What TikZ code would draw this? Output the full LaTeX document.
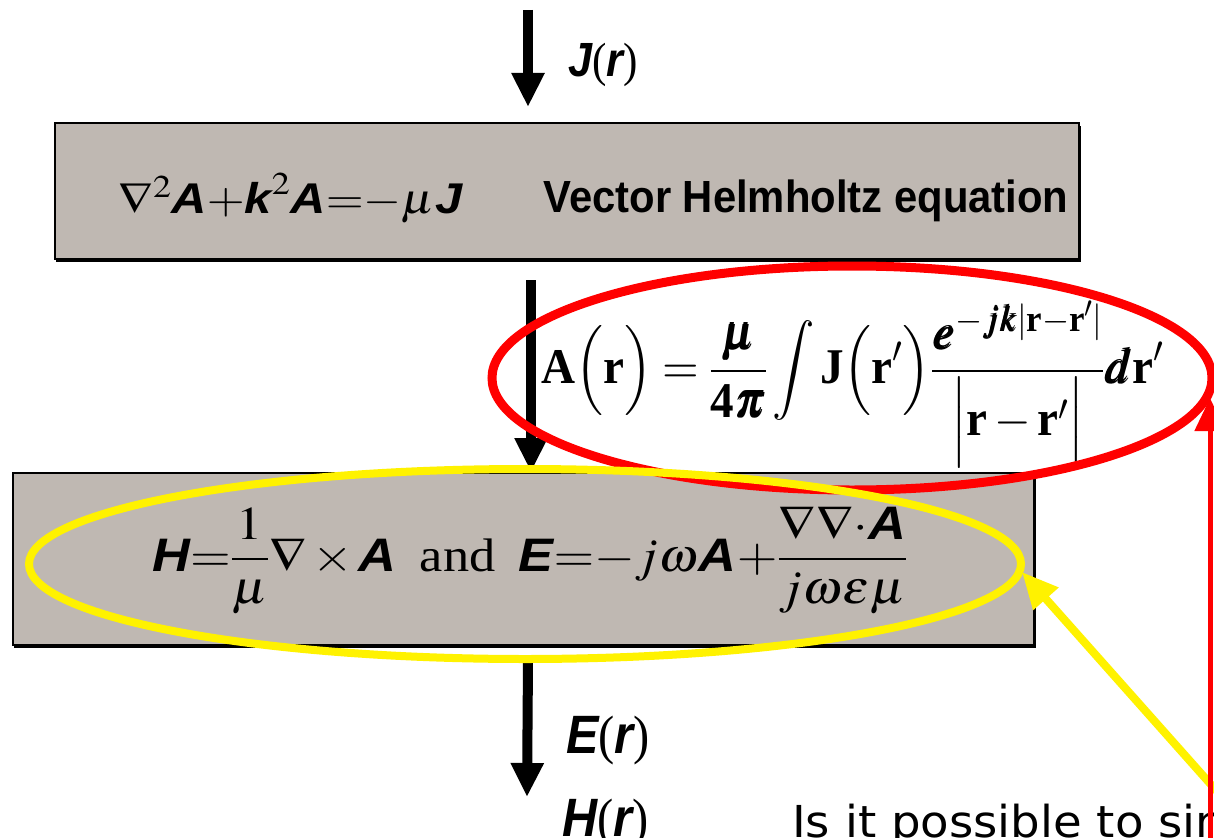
\documentclass[tikz,border=0pt]{standalone}
\usepackage{graphicx}
\usepackage{amsmath}
\usepackage{mathptmx}
\usepackage{bm}
\usepackage{fontspec}
\setmainfont{Liberation Serif}
\newfontfamily\arialf{Liberation Sans}
\newfontfamily\handf{DejaVu Sans}
\usetikzlibrary{arrows.meta,shapes.geometric}
\definecolor{boxgray}{RGB}{191,184,178}
\newcommand{\sbi}[1]{\text{\arialf\bfseries\itshape #1}}
\newcommand{\tb}[1]{\text{\bfseries #1}}
\newcommand{\fieldlbl}[1]{\scalebox{0.9}[1]{{\arialf\bfseries\itshape #1}{\rmfamily(}{\arialf\bfseries\itshape r}{\rmfamily)}}}
\tikzset{
  flowbox/.style={draw=black,line width=1.5pt,fill=boxgray},
  shadowbox/.style={fill=black},
  flowarrow/.style={line width=10pt,-{Triangle[width=31pt,length=34pt]}},
  redring/.style={draw=red,line width=9pt,ellipse,inner sep=0pt},
  yellowring/.style={draw=yellow,line width=8pt,ellipse,inner sep=0pt},
  redarrow/.style={draw=red,line width=5pt,-{Triangle[width=30pt,length=33pt]}},
  yellowarrow/.style={draw=yellow,line width=8pt,-{Triangle[width=32pt,length=36pt]}},
  lbl/.style={inner sep=0pt,anchor=base west,font=\fontsize{54}{58}\selectfont},
  eqn/.style={inner sep=0pt,anchor=base west}
}
\begin{document}
\begin{tikzpicture}[x=1pt,y=-1pt]
\useasboundingbox (0,0) rectangle (1214,837);
\clip (0,0) rectangle (1214,837);
\fill[white] (0,0) rectangle (1214,837);
% boxes
\fill[shadowbox] (56,126) rectangle (1081,262);
\path[flowbox] (55,123) rectangle (1079,259);
\fill[shadowbox] (14,476) rectangle (1036,648);
\path[flowbox] (13,473) rectangle (1034,645);
% box 1 texts
\node[eqn,font=\fontsize{43}{45}\selectfont] (eq1) at (118,213) {\resizebox{344pt}{\height}{$\nabla^{2}\sbi{A}{+}\sbi{k}^{2}\sbi{A}{=}{-}\mu\sbi{J}$}};
\node[inner sep=0pt] (vhe) at (806,201) {\resizebox*{525pt}{42pt}{\arialf\bfseries Vector Helmholtz equation}};
% box 2 text
\node[eqn,font=\fontsize{47}{49}\selectfont] (eq2) at (152,571) {\resizebox{755pt}{\height}{$\sbi{H}{=}\dfrac{1}{\mu}\nabla{\,\times\,}\sbi{A}\;\;\text{and}\;\;\sbi{E}{=}{-}j\omega\sbi{A}{+}\dfrac{\nabla\nabla{\cdot}\sbi{A}}{j\omega\varepsilon\mu}$}};
% vector potential integral
\node[eqn,font=\fontsize{50}{52}\selectfont] (eq3) at (541,383) {\resizebox{622pt}{\height}{$\displaystyle\tb{A}\Bigl(\tb{r}\Bigr)=\frac{\bm{\mu}}{\tb{4}\bm{\pi}}\int\tb{J}\Bigl(\tb{r}'\Bigr)\frac{\bm{e}^{-\bm{j}\bm{k}\lvert\tb{r}-\tb{r}'\rvert}}{\Bigl|\tb{r}-\tb{r}'\Bigr|}\bm{d}\tb{r}'$}};
% flow arrows
\coordinate (a1s) at (528,10);
\coordinate (a1e) at (528,107);
\draw[flowarrow] (a1s) -- (a1e);
\node[lbl,font=\fontsize{48}{52}\selectfont] (jr) at (568,77) {\fieldlbl{J}};
\coordinate (a2s) at (531,280);
\coordinate (a2e) at (531,472);
\draw[flowarrow] (a2s) -- (a2e);
\coordinate (a3s) at (528,660);
\coordinate (a3e) at (527,797);
\draw[flowarrow] (a3s) -- (a3e);
\node[lbl] (er) at (566,753) {\fieldlbl{E}};
\node[lbl] (hr) at (562,836) {\fieldlbl{H}};
% rings
\node[redring,minimum width=720pt,minimum height=224pt] (red) at (852,378) {};
\node[yellowring,minimum width=992pt,minimum height=190pt] (yel) at (525,564) {};
% question
\node[inner sep=0pt,anchor=base west,font=\handf\fontsize{44}{48}\selectfont] (q) at (792,837) {\scalebox{1.06}[1]{Is it possible to sin}};
% pointer arrows
\coordinate (ys) at (1222,797);
\coordinate (ye) at (1022,572);
\draw[yellowarrow] (ys) -- (ye);
\coordinate (rs) at (1210,850);
\coordinate (re) at (1210,398);
\draw[redarrow] (rs) -- (re);
\end{tikzpicture}
\end{document}
